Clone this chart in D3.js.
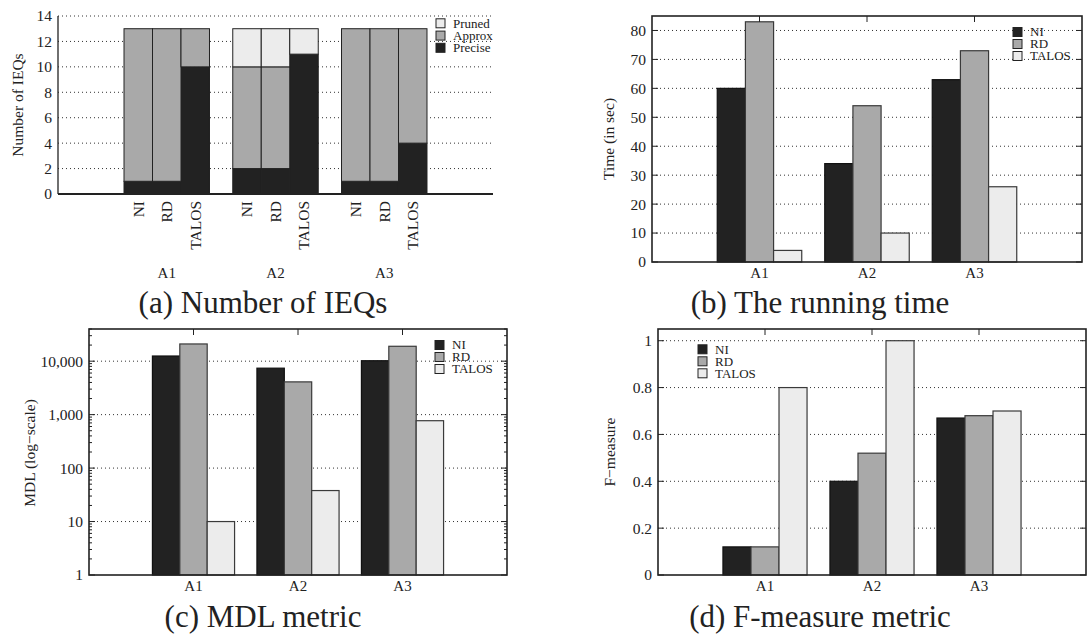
<!DOCTYPE html>
<html>
<head>
<meta charset="utf-8">
<script src="https://cdn.jsdelivr.net/npm/d3@7"></script>
<style>
  html, body { margin: 0; padding: 0; background: #fff; }
  svg { display: block; }
  text { font-family: "Liberation Serif", serif; fill: #222; }
</style>
</head>
<body>
<svg id="fig" width="1087" height="637"></svg>
<script>
// ---- data ----
const groups = ["A1", "A2", "A3"];
const methods = ["NI", "RD", "TALOS"];

// (a) number of IEQs per group, per method (NI, RD, TALOS)
const ieqLayers = ["Precise", "Approx", "Pruned"];
const ieqPrecise = [[1, 1, 10], [2, 2, 11], [1, 1, 4]];
const ieqApprox  = [[12, 12, 3], [8, 8, 0], [12, 12, 9]];
const ieqPruned  = [[0, 0, 0], [3, 3, 2], [0, 0, 0]];
const ieqTicks = [0, 2, 4, 6, 8, 10, 12, 14];

// (b) running time in seconds, per group
const timeNI    = [60, 34, 63];
const timeRD    = [83, 54, 73];
const timeTALOS = [4, 10, 26];
const timeTicks = [0, 10, 20, 30, 40, 50, 60, 70, 80];

// (c) MDL, log scale
const mdlNI    = [12500, 7400, 10200];
const mdlRD    = [21000, 4100, 19000];
const mdlTALOS = [10, 38, 770];
const mdlTicks = [1, 10, 100, 1000, 10000];

// (d) F-measure
const fNI    = [0.12, 0.40, 0.67];
const fRD    = [0.12, 0.52, 0.68];
const fTALOS = [0.80, 1.00, 0.70];
const fTicks = [0, 0.2, 0.4, 0.6, 0.8, 1];

// ---- styling ----
const fills = { NI: "#222222", RD: "#a9a9a9", TALOS: "#ececec",
                Precise: "#222222", Approx: "#a9a9a9", Pruned: "#ececec" };
const BAR = 0.262;         // bar width in group units
const GRID_DASH = "1,3";

const svg = d3.select("#fig");
svg.append("rect").attr("width", 1087).attr("height", 637).attr("fill", "#fff");

function gridLines(g, x, y, ticks) {
  g.append("g").selectAll("line").data(ticks).join("line")
    .attr("x1", x.range()[0]).attr("x2", x.range()[1])
    .attr("y1", d => y(d)).attr("y2", d => y(d))
    .attr("stroke", "#333").attr("stroke-width", 1)
    .attr("stroke-dasharray", GRID_DASH);
}

function yLabels(g, x, y, ticks, fmt) {
  g.append("g").selectAll("text").data(ticks).join("text")
    .attr("x", x.range()[0] - 6).attr("y", d => y(d)).attr("dy", "0.35em")
    .attr("text-anchor", "end").attr("font-size", 15.5)
    .text(fmt);
}

function yTitle(g, cx, cy, label) {
  g.append("text")
    .attr("transform", `translate(${cx},${cy}) rotate(-90)`)
    .attr("text-anchor", "middle").attr("dy", "0.35em")
    .attr("font-size", 15.5).text(label);
}

function caption(cx, baseline, label) {
  svg.append("text").attr("x", cx).attr("y", baseline)
    .attr("text-anchor", "middle").attr("font-size", 31).text(label);
}

function legend(g, x0, rows, names) {
  const lg = g.append("g");
  names.forEach((n, i) => {
    lg.append("rect").attr("x", x0).attr("y", rows[i] - 4.5)
      .attr("width", 9).attr("height", 9)
      .attr("fill", fills[n]).attr("stroke", "#222").attr("stroke-width", 1);
    lg.append("text").attr("x", x0 + 17).attr("y", rows[i]).attr("dy", "0.33em")
      .attr("font-size", 13).text(n);
  });
}

// ---- (a) stacked IEQ columns ----
(function () {
  const g = svg.append("g");
  const x = d3.scaleLinear().domain([-1, 3]).range([58, 493]);
  const y = d3.scaleLinear().domain([0, 14]).range([194, 16]);
  gridLines(g, x, y, ieqTicks.filter(d => d > 0));

  const rows = [];
  groups.forEach((grp, gi) => methods.forEach((m, mi) => {
    rows.push({ gi, mi, Precise: ieqPrecise[gi][mi], Approx: ieqApprox[gi][mi], Pruned: ieqPruned[gi][mi] });
  }));
  const stacked = d3.stack().keys(ieqLayers)(rows);
  const bw = x(BAR) - x(0);
  stacked.forEach(layer => {
    g.append("g").selectAll("rect").data(layer.filter(d => d[1] > d[0])).join("rect")
      .attr("x", d => x(d.data.gi + (d.data.mi - 1) * BAR) - bw / 2)
      .attr("width", bw)
      .attr("y", d => y(d[1]))
      .attr("height", d => y(d[0]) - y(d[1]))
      .attr("fill", fills[layer.key]).attr("stroke", "#222").attr("stroke-width", 1);
  });

  // axes lines (left and bottom only)
  g.append("line").attr("x1", x.range()[0]).attr("x2", x.range()[0])
    .attr("y1", y(14)).attr("y2", y(0)).attr("stroke", "#222").attr("stroke-width", 1.3);
  g.append("line").attr("x1", x.range()[0]).attr("x2", x.range()[1])
    .attr("y1", y(0)).attr("y2", y(0)).attr("stroke", "#222").attr("stroke-width", 1.8);

  yLabels(g, x, y, ieqTicks, d => d);
  yTitle(g, 17.5, 105, "Number of IEQs");

  // method labels, rotated
  groups.forEach((grp, gi) => methods.forEach((m, mi) => {
    const cx = x(gi + (mi - 1) * BAR);
    g.append("text")
      .attr("transform", `translate(${cx},${y(0) + 7}) rotate(-90)`)
      .attr("text-anchor", "end").attr("dy", "0.35em")
      .attr("font-size", 15.5).text(m);
  }));
  g.append("g").selectAll("text").data(groups).join("text")
    .attr("x", (d, i) => x(i)).attr("y", 278)
    .attr("text-anchor", "middle").attr("font-size", 15).text(d => d);

  legend(g, 436, [23.3, 35.6, 47.8], ["Pruned", "Approx", "Precise"]);
  caption(263, 313, "(a) Number of IEQs");
})();

// ---- grouped bar panels (b), (c), (d) ----
function groupedPanel(o) {
  const g = svg.append("g");
  const x = d3.scaleLinear().domain([-1, 3]).range([o.left, o.right]);
  const y = o.y.range([o.bottom, o.top]);
  gridLines(g, x, y, o.ticks.filter(d => d !== o.ticks[0]));

  const bw = x(BAR) - x(0);
  o.series.forEach((vals, mi) => {
    g.append("g").selectAll("rect").data(vals).join("rect")
      .attr("x", (d, gi) => x(gi + (mi - 1) * BAR) - bw / 2)
      .attr("width", bw)
      .attr("y", d => y(d))
      .attr("height", d => o.bottom - y(d))
      .attr("fill", fills[methods[mi]])
      .attr("stroke", mi === 0 ? "#111" : "#3a3a3a").attr("stroke-width", 1.2);
  });

  // tick marks inside the frame
  const tk = g.append("g").attr("stroke", "#222").attr("stroke-width", 1);
  o.ticks.forEach(t => {
    tk.append("line").attr("x1", o.left).attr("x2", o.left + 6).attr("y1", y(t)).attr("y2", y(t));
    tk.append("line").attr("x1", o.right).attr("x2", o.right - 6).attr("y1", y(t)).attr("y2", y(t));
  });
  (o.minor || []).forEach(t => {
    tk.append("line").attr("x1", o.left).attr("x2", o.left + 3).attr("y1", y(t)).attr("y2", y(t));
    tk.append("line").attr("x1", o.right).attr("x2", o.right - 3).attr("y1", y(t)).attr("y2", y(t));
  });
  groups.forEach((grp, gi) => {
    tk.append("line").attr("x1", x(gi)).attr("x2", x(gi)).attr("y1", o.top).attr("y2", o.top + 6);
  });

  // frame
  g.append("rect").attr("x", o.left).attr("y", o.top)
    .attr("width", o.right - o.left).attr("height", o.bottom - o.top)
    .attr("fill", "none").attr("stroke", "#222").attr("stroke-width", 1.6);

  yLabels(g, x, y, o.ticks, o.fmt);
  yTitle(g, o.titleX, o.titleY, o.title);
  g.append("g").selectAll("text").data(groups).join("text")
    .attr("x", (d, i) => x(i)).attr("y", o.bottom + 16)
    .attr("text-anchor", "middle").attr("font-size", 15).text(d => d);

  legend(g, o.legendX, o.legendRows, methods);
  caption(o.capX, o.capY, o.caption);
}

groupedPanel({
  left: 652, right: 1082, top: 16, bottom: 262,
  y: d3.scaleLinear().domain([0, 85]),
  ticks: timeTicks, fmt: d => d,
  series: [timeNI, timeRD, timeTALOS],
  title: "Time (in sec)", titleX: 609, titleY: 139,
  legendX: 1013, legendRows: [32, 44, 56],
  caption: "(b) The running time", capX: 820, capY: 313
});

const mdlMinor = [];
[1, 10, 100, 1000, 10000].forEach(dec => {
  for (let k = 2; k <= 9; k++) if (dec * k <= 40000) mdlMinor.push(dec * k);
});

groupedPanel({
  left: 89, right: 507, top: 329, bottom: 575,
  y: d3.scaleLog().domain([1, 40000]),
  ticks: mdlTicks, fmt: d3.format(","), minor: mdlMinor,
  series: [mdlNI, mdlRD, mdlTALOS],
  title: "MDL (log\u2212scale)", titleX: 30, titleY: 453,
  legendX: 435, legendRows: [345, 357, 369],
  caption: "(c) MDL metric", capX: 263, capY: 627
});

groupedPanel({
  left: 658, right: 1086, top: 329, bottom: 575,
  y: d3.scaleLinear().domain([0, 1.05]),
  ticks: fTicks, fmt: d => d,
  series: [fNI, fRD, fTALOS],
  title: "F\u2212measure", titleX: 610, titleY: 452,
  legendX: 698, legendRows: [349.3, 361.3, 373.3],
  caption: "(d) F-measure metric", capX: 820, capY: 627
});
</script>
</body>
</html>
